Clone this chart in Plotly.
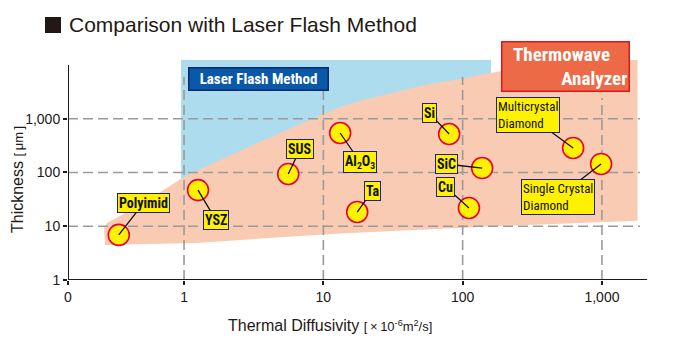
import math
import plotly.graph_objects as go

# ---------------- data ----------------
materials = ["Polyimid", "YSZ", "SUS", "Al<sub>2</sub>O<sub>3</sub>", "Ta", "Si", "SiC", "Cu",
             "Multicrystal<br>Diamond", "Single Crystal<br>Diamond"]
diffusivity = [0.34, 1.26, 5.6, 13.2, 17.5, 80, 138, 111, 621, 986]      # x10^-6 m2/s
thickness = [6.9, 47, 94, 543, 18.4, 520, 121, 21.9, 286, 144]          # um

# measurable region of the Thermowave Analyzer (boundary points)
twa_x = [0.267, 0.28, 0.525, 0.968, 1.35, 1.81, 2.55, 3.5, 4.9, 6.8, 9.5, 13.2, 18.5, 25.5,
         35.5, 49.5, 69, 95.8, 157, 258, 500, 969, 1800, 1800, 185, 13.2, 1.2, 0.271, 0.267]
twa_y = [9.3, 11.5, 28.3, 79, 120, 171, 255, 369, 545, 798, 1160, 1655, 2150, 2650,
         3300, 4070, 4750, 5500, 7100, 8800, 10900, 12400, 12400, 12.7, 10.1, 7.3, 4.9, 4.5, 9.3]

# measurable region of the Laser Flash Method
lfm_x = [0.952, 160, 160, 0.952, 0.952]
lfm_y = [79, 79, 12400, 12400, 79]

x_tickvals = [0.1469, 1, 10, 100, 1000]
x_ticktext = ["0", "1", "10", "100", "1,000"]
y_tickvals = [1, 10, 100, 1000]
y_ticktext = ["1", "10", "100", "1,000"]

# ---------------- styling / layout config ----------------
label_offsets = [(25, -32), (18, 30), (12, -25), (20, 29), (15, -21), (-20, -21),
                 (-36, -4), (-23, -21), (-45, -33), (-43, 33)]
label_bold = [True, True, True, True, True, True, True, True, False, False]

XMIN, XMAX = -0.833, 3.345
YMIN, YMAX = 0.0, 4.13

NARROW = "Liberation Sans Narrow, Roboto Condensed, DejaVu Sans Condensed, Arial Narrow, Liberation Sans, sans-serif"
SANS = "Liberation Sans, Arial, sans-serif"
GRID = "#9a9a9a"
INK = "#231815"

fig = go.Figure()

# fills
fig.add_trace(go.Scatter(x=lfm_x, y=lfm_y, mode="lines", fill="toself",
                         fillcolor="#addcee", line=dict(width=0), hoverinfo="skip",
                         showlegend=False))
fig.add_trace(go.Scatter(x=twa_x, y=twa_y, mode="lines", fill="toself",
                         fillcolor="#f9cbb2", line=dict(width=0),
                         hoverinfo="skip", showlegend=False))

# dashed gridlines
xg_right = 1877
for yv in y_tickvals[1:]:
    fig.add_trace(go.Scatter(x=[x_tickvals[0], xg_right], y=[yv, yv], mode="lines",
                             line=dict(color=GRID, width=1.6, dash="10px,5px"),
                             hoverinfo="skip", showlegend=False))
for xv in x_tickvals[1:]:
    top = 2430 if xv == 1000 else 5980
    fig.add_trace(go.Scatter(x=[xv, xv], y=[1, top], mode="lines",
                             line=dict(color=GRID, width=1.6, dash="10px,5px"),
                             hoverinfo="skip", showlegend=False))

# axis lines
fig.add_trace(go.Scatter(x=[x_tickvals[0], x_tickvals[0]], y=[1, 10000], mode="lines",
                         line=dict(color=INK, width=2), hoverinfo="skip", showlegend=False))
fig.add_trace(go.Scatter(x=[x_tickvals[0], 2110], y=[1, 1], mode="lines",
                         line=dict(color=INK, width=2), hoverinfo="skip", showlegend=False))

# material points
fig.add_trace(go.Scatter(x=diffusivity, y=thickness, mode="markers",
                         marker=dict(size=21, color="#fff100",
                                     line=dict(color="#e8003c", width=1.6)),
                         hoverinfo="skip", showlegend=False, cliponaxis=False))

annotations = []
for name, xv, yv, (dx, dy), bold in zip(materials, diffusivity, thickness, label_offsets, label_bold):
    annotations.append(dict(
        x=math.log10(xv), y=math.log10(yv), xref="x", yref="y",
        ax=dx, ay=dy, text=name, showarrow=True, arrowhead=0, arrowwidth=1.3,
        arrowcolor="#111111", standoff=0,
        font=dict(family=NARROW, size=14 if bold else 13, color="#111111",
                  weight="bold" if bold else "normal"),
        align="left", bgcolor="#fff100", bordercolor="#1d2088", borderwidth=1, borderpad=1))

# region boxes
annotations.append(dict(
    x=0.538, y=3.74, xref="x", yref="y", showarrow=False,
    text="Laser Flash Method", width=136, height=19,
    font=dict(family=NARROW, size=15, color="white", weight="bold"),
    bgcolor="#0a58a8", bordercolor="#0b2a6e", borderwidth=1.5, borderpad=1))
annotations.append(dict(
    x=2.735, y=3.963, xref="x", yref="y", showarrow=False,
    text="Thermowave\u00a0\u00a0\u00a0\u00a0<br>Analyzer", align="right", width=124, height=46,
    font=dict(family=NARROW, size=19, color="white", weight="bold"),
    bgcolor="#ec6a45", bordercolor="#e6141e", borderwidth=1.5, borderpad=1))

# title
annotations.append(dict(
    x=(67 - 68) / 582, y=(280 - 25) / 222, xref="paper", yref="paper",
    xanchor="left", yanchor="middle", showarrow=False,
    text="Comparison with Laser Flash Method",
    font=dict(family=SANS, size=21, color=INK)))

# axis titles
annotations.append(dict(
    x=(330 - 68) / 582, y=(280 - 325) / 222, xref="paper", yref="paper",
    xanchor="center", yanchor="middle", showarrow=False,
    text="Thermal Diffusivity <span style='font-size:13px'>[\u2009×\u200910<sup>-6</sup>m<sup>2</sup>/s]</span>",
    font=dict(family=SANS, size=16, color=INK)))
annotations.append(dict(
    x=(17 - 68) / 582, y=(280 - 180) / 222, xref="paper", yref="paper",
    xanchor="center", yanchor="middle", showarrow=False, textangle=-90,
    text="Thickness <span style='font-size:13px'>[\u2009μm\u2009]</span>",
    font=dict(family=SANS, size=16, color=INK)))

fig.update_layout(
    width=682, height=358,
    margin=dict(l=68, r=32, t=58, b=78),
    paper_bgcolor="white", plot_bgcolor="white",
    showlegend=False,
    annotations=annotations,
    shapes=[dict(type="rect", xref="paper", yref="paper",
                 x0=(45 - 68) / 582, x1=(61 - 68) / 582,
                 y0=(280 - 33) / 222, y1=(280 - 17) / 222,
                 fillcolor=INK, line=dict(width=0))],
    xaxis=dict(type="log", range=[XMIN, XMAX], tickvals=x_tickvals, ticktext=x_ticktext,
               showgrid=False, zeroline=False, showline=False,
               ticks="outside", ticklen=4, tickwidth=1.5, tickcolor=INK,
               tickfont=dict(family=SANS, size=14, color=INK)),
    yaxis=dict(type="log", range=[YMIN, YMAX], tickvals=y_tickvals, ticktext=y_ticktext,
               showgrid=False, zeroline=False, showline=False,
               ticks="outside", ticklen=4, tickwidth=1.5, tickcolor=INK,
               tickfont=dict(family=SANS, size=14, color=INK)),
)

fig.write_html("out.html", config={"displayModeBar": False},
               post_script="document.body.style.margin='0px';document.body.style.overflow='hidden';")
